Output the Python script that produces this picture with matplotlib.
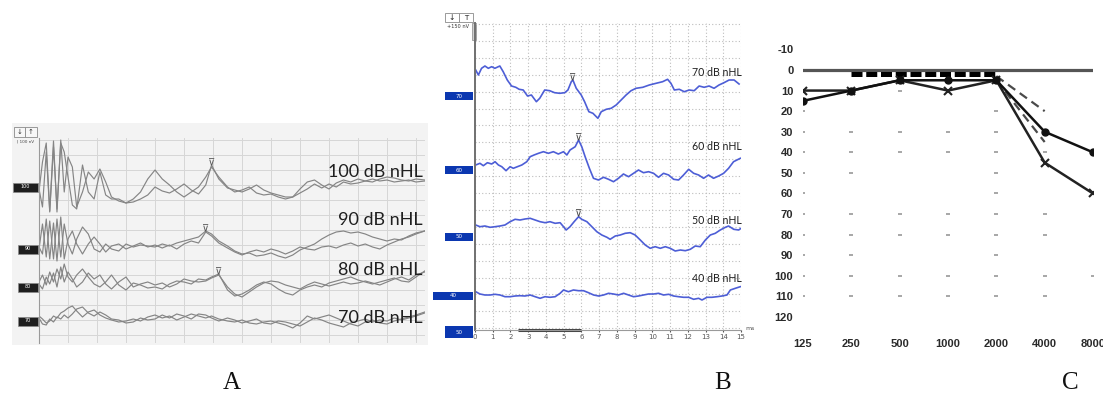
import numpy as np
import matplotlib
matplotlib.use('Agg')
import matplotlib.pyplot as plt
import matplotlib.transforms as mtransforms
from matplotlib.patches import Rectangle

W, H = 1103, 395

# ---------------- panel A: click ABR, two runs per level ----------------
a_levels = ['100', '90', '80', '70']
a_time = [0, 0.12, 0.25, 0.37, 0.5, 0.62, 0.75, 0.87, 1.0, 1.15, 1.3,
          1.5, 1.7, 1.9, 2.1, 2.3, 2.5,
          2.75, 3.0, 3.25, 3.5, 3.75, 4.0, 4.25, 4.5, 4.75, 5.0, 5.25, 5.5, 5.75,
          5.95, 6.2,
          6.5, 6.75, 7.0, 7.25, 7.5, 7.75, 8.0, 8.25, 8.5, 8.75, 9.0, 9.25, 9.5, 9.75,
          10.0, 10.25, 10.5, 10.75, 11.0, 11.25, 11.5, 11.75, 12.0, 12.25, 12.5, 12.75, 13.0,
          13.3]
a100_run1 = [-4, 25, 44, -24, 46, -25, 47, -5, 30, 20, -20,
             -5, 15, 8, 18, 5, -10,
             -14, -16, -15, -12, -8, 0, -4, -6, -2, 3, -3, -7, 2,
             22, 8,
             -1, -3, -5, -2, 2, -3, -6, -8, -10, -10, -6, -2, 3, -1,
             3, 0, 5, 3, 4, 6, 8, 6, 7, 5, 6, 7, 5,
             6]
a100_run2 = [-2, -20, 35, -25, 40, -22, 44, 35, 10, -18, -22,
             22, -5, -12, 15, -8, -12,
             -12, -16, -12, -5, 8, 17, 8, 2, -5, -10, -5, 0, 10,
             20, 10,
             0, -5, -3, 0, -6, -8, -7, -10, -12, -10, -2, 5, 7, 2,
             -2, 4, 7, 5, 8, 6, 5, 8, 10, 9, 7, 6, 8,
             7]
a90_run1 = [0, 25, -8, 28, -10, 30, -8, 25, 5, -5, 10,
            22, 15, 0, -3, 5, 0,
            -2, 5, 2, 4, 3, 2, 5, 3, 6, 8, 10, 12, 18,
            15, 8,
            3, -2, -5, -4, -7, -6, -4, -7, -9, -6, -1, 2, 5, 10,
            14, 17, 18, 16, 17, 15, 12, 10, 8, 10, 9, 13, 16,
            18]
a90_run2 = [2, -5, 30, -10, 26, -12, 32, -10, 10, 18, 5,
            -5, 5, 12, 5, -3, 3,
            5, 0, 3, 6, 2, 4, 1, 4, 0, 5, 8, 6, 17,
            13, 6,
            1, -3, -6, -3, -1, -3, 0, -2, -5, -2, 2, 0, -1, 2,
            3, 1, 4, 6, 3, 5, 2, 0, 4, 7, 10, 12, 15,
            18]
a80_run1 = [5, 12, 2, 15, 5, 18, 8, 23, 10, 5, 12,
            18, 10, 3, 0, 5, 12,
            2, -3, 4, 2, -1, 0, -2, 3, 6, 5, 3, 8, 7,
            10, 13,
            -3, -9, -7, -3, 2, 5, 3, -2, -6, -8, -3, 0, 2, 0,
            4, 6, 8, 10, 7, 5, 3, 5, 7, 9, 6, 5, 10,
            16]
a80_run2 = [3, -2, 10, 3, 14, 0, 20, 5, 15, 8, 0,
            5, 14, 8, 12, 3, -2,
            5, 10, 0, 3, 5, 2, 4, 0, 3, 8, 6, 5, 6,
            9, 12,
            0, -7, -10, -5, 0, 4, 6, 5, 2, 0, -2, 2, 5, 3,
            1, 3, 5, 3, 4, 6, 4, 2, 5, 8, 10, 7, 12,
            15]
a70_run1 = [5, 2, -2, 0, 5, 3, 8, 10, 13, 15, 10,
            4, 9, 11, 6, 3, 1,
            -1, 0, 2, 0, 4, 6, 3, 5, 1, 4, 7, 5, 3,
            5, 2,
            0, -1, 1, -2, -3, -1, 0, -2, -4, -7, -2, 5, 2, 4,
            6, 3, 0, -3, -5, -1, 1, -2, -3, 0, 2, 4, 6,
            9]
a70_run2 = [3, -3, -4, 2, -1, 4, 2, 6, 3, 7, 12,
            14, 8, 5, 9, 6, 2,
            1, -2, -1, 3, 1, 2, 6, 3, 7, 5, 2, 7, 6,
            3, 0,
            3, 1, -2, 0, 2, -2, -3, 0, -1, -3, -5, -1, 3, 1,
            -2, -4, -6, -2, 0, 2, -1, 1, 0, 3, 1, 3, 5,
            8]
a_runs = [(a100_run1, a100_run2), (a90_run1, a90_run2),
          (a80_run1, a80_run2), (a70_run1, a70_run2)]
a_has_wave5 = [True, True, True, False]

# ---------------- panel B: ABR, one trace per level ----------------
b_levels = ['70', '60', '50', '40']
b70_t = [0.04, 0.19, 0.37, 0.56, 0.75, 0.94, 1.12, 1.40, 1.59, 1.82,
         2.06, 2.30, 2.49, 2.72, 2.96, 3.18, 3.46, 3.65, 3.93, 4.21,
         4.49, 4.78, 5.06, 5.24, 5.43, 5.52, 5.71, 5.99, 6.18, 6.42,
         6.65, 6.93, 7.12, 7.40, 7.68, 7.96, 8.24, 8.52, 8.80, 9.08,
         9.46, 9.83, 10.21, 10.58, 10.86, 11.05, 11.24, 11.52, 11.80, 12.08,
         12.36, 12.64, 12.92, 13.20, 13.48, 13.76, 14.04, 14.33, 14.61, 14.89]
b70_v = [26, 21, 27.7, 30, 27.7, 29.3, 27.7, 30, 24.3, 16,
         10, 8.7, 6.7, 6, 0, 1, -5.7, -2.3, 6, 5.3,
         3.3, 2.7, 3.3, 6, 14.3, 16, 7.7, 1, -5.7, -15.7,
         -17.3, -22.3, -15.7, -13.3, -12.3, -9, -4, 1, 5.3, 7.7,
         8.7, 11, 12.7, 14.3, 16.7, 12.7, 6, 6.7, 4.3, 6,
         5.3, 10, 8.7, 10, 7.7, 11, 13.3, 16, 16, 12]
b60_t = [0.04, 0.28, 0.47, 0.70, 0.94, 1.13, 1.32, 1.51, 1.75, 1.98,
         2.16, 2.39, 2.64, 2.92, 3.11, 3.33, 3.58, 3.86, 4.14, 4.42,
         4.70, 4.99, 5.18, 5.36, 5.65, 5.84, 6.02, 6.21, 6.45, 6.68,
         6.96, 7.25, 7.53, 7.81, 8.09, 8.37, 8.66, 8.94, 9.22, 9.50,
         9.79, 10.07, 10.35, 10.63, 10.92, 11.20, 11.48, 11.76, 12.05, 12.33,
         12.61, 12.89, 13.17, 13.45, 13.74, 14.02, 14.30, 14.58, 14.96]
b60_v = [5, 6.7, 4.3, 7.3, 6, 8.3, 5, 3.3, -0.7, 3.3,
         1.7, 3.3, 5, 8.3, 13.3, 15, 16.7, 18.3, 16.7, 18.3,
         16, 18.3, 15, 20, 23.3, 30, 23.3, 13.3, 1.7, -8.3,
         -10, -7.3, -9.3, -11.7, -8.3, -4, -6.7, -3.3, 0, -2.7,
         -1.7, -3.3, -7.3, -3.3, -5, -9.3, -10, -5, 0.7, -3.3,
         -5, -8.3, -5, -8.3, -6, -3.3, 1.7, 8.3, 11.7]
b50_t = [0.04, 0.28, 0.56, 0.85, 1.13, 1.41, 1.69, 1.98, 2.26, 2.54,
         2.82, 3.11, 3.39, 3.67, 3.95, 4.23, 4.52, 4.80, 4.99, 5.14,
         5.36, 5.59, 5.84, 6.02, 6.31, 6.59, 6.87, 7.15, 7.44, 7.62,
         7.91, 8.19, 8.47, 8.75, 9.03, 9.32, 9.60, 9.88, 10.16, 10.45,
         10.73, 11.01, 11.29, 11.58, 11.86, 12.14, 12.42, 12.70, 12.99, 13.27,
         13.55, 13.83, 14.12, 14.30, 14.59, 14.87, 15.0]
b50_v = [11.7, 10, 10.7, 9.4, 10, 10.7, 11.7, 15, 17.4, 16.7,
         17.7, 18.4, 16.7, 15, 14, 15, 13.4, 14, 10, 6.7,
         10, 15, 20, 17.4, 15, 10, 5, 1.7, -0.6, -2.6,
         0.7, 1.7, 3.4, 4, 1.7, -3.3, -8.3, -11.6, -10, -11.6,
         -10, -11.6, -14.3, -13.3, -14, -12.6, -9.3, -10, -3.3, 1.7,
         3.4, 6.7, 9.4, 10.7, 7.4, 6.7, 8.4]
b40_t = [0.04, 0.28, 0.56, 0.85, 1.13, 1.41, 1.69, 1.98, 2.26, 2.54,
         2.82, 3.11, 3.39, 3.67, 3.95, 4.23, 4.52, 4.80, 4.99, 5.27,
         5.55, 5.84, 6.12, 6.40, 6.69, 6.97, 7.25, 7.53, 7.81, 8.09,
         8.38, 8.66, 8.94, 9.22, 9.50, 9.79, 10.07, 10.35, 10.63, 10.92,
         11.20, 11.48, 11.76, 12.05, 12.33, 12.61, 12.80, 13.08, 13.36, 13.65,
         13.93, 14.21, 14.40, 14.68, 14.96]
b40_v = [4, 1.7, 0.7, 0.7, 1.4, 0.7, -1, -1, -0.3, 0,
         -0.3, 0.7, -1, -2.6, -1, -1.6, -1, 2.4, 5.7, 4,
         5.7, 5, 5, 3, 0.7, -0.3, 0.7, 2.4, 1.7, 0.7,
         2.4, 0.7, -1, -0.3, 0.7, 1.7, 1.7, 2.4, 0.7, 1.4,
         -0.3, -1, -1.6, -1.6, -3.6, -2.6, -4.3, -1.6, -1.6, -1,
         -0.3, 0.7, 5.7, 7.4, 9]
b_traces = [(b70_t, b70_v), (b60_t, b60_v), (b50_t, b50_v), (b40_t, b40_v)]
b_has_wave5 = [True, True, True, False]
b_stim_bar = [2.45, 5.95]

# ---------------- panel C: audiogram ----------------
freqs = [125, 250, 500, 1000, 2000, 4000, 8000]
freq_labels = ['125', '250', '500', '1000', '2000', '4000', '8000']
thr_circle = [15, 10, 5, 5, 5, 30, 40]
thr_cross = [10, 10, 5, 10, 5, 45, 60]
ref_f = [250, 2000]
ref_db = [2, 2]
bone1_f, bone1_db = [2000, 4000], [3, 20]
bone2_f, bone2_db = [2000, 4000], [5, 35]
db_ticks = list(range(-10, 121, 10))
grid_dots = {125: [20, 30, 40, 50, 60, 70, 80, 90, 100, 110],
             250: [30, 40, 50, 70, 80, 90, 100, 110],
             500: [10, 30, 40, 70, 80, 100, 110],
             1000: [30, 40, 70, 80, 100, 110],
             2000: [20, 30, 40, 50, 60, 70, 80, 90, 100, 110],
             4000: [40, 70, 80, 100, 110],
             8000: [100]}


def px_box(x0, y0, x1, y1):
    return [x0 / W, 1 - y1 / H, (x1 - x0) / W, (y1 - y0) / H]


fig = plt.figure(figsize=(W / 100, H / 100), dpi=100)
canvas = fig.add_axes([0, 0, 1, 1], zorder=0)
canvas.set_xlim(0, W)
canvas.set_ylim(H, 0)
canvas.axis('off')
top = fig.add_axes([0, 0, 1, 1], zorder=10)
top.set_xlim(0, W)
top.set_ylim(H, 0)
top.axis('off')
top.patch.set_alpha(0)

# ---- A ----
canvas.add_patch(Rectangle((12, 123), 416, 222, fc='#f3f3f3', ec='none'))
axA = fig.add_axes(px_box(39, 138, 425, 343), zorder=1)
axA.set_facecolor('#f3f3f3')
a_base = [0, -62, -100, -134]
axA.set_xlim(0, 13.31)
axA.set_ylim(-156, 49)
axA.set_xticks(np.arange(1, 14))
axA.set_yticks(np.arange(47, -156, -15))
axA.grid(True, color='#d6d6d6', lw=0.7)
axA.tick_params(length=0, labelbottom=False, labelleft=False)
for s in ['top', 'right', 'bottom']:
    axA.spines[s].set_visible(False)
axA.spines['left'].set_color('#9a9a9a')
trA = mtransforms.blended_transform_factory(axA.transAxes, axA.transData)
tA = np.array(a_time)
for lab, base, runs, has5 in zip(a_levels, a_base, a_runs, a_has_wave5):
    for r in runs:
        axA.plot(tA, np.array(r) + base, color='#858585', lw=0.85)
    w = 0.0674 if lab == '100' else 0.0544
    axA.add_patch(Rectangle((-w, base - 4.5), w - 0.003, 9, transform=trA,
                            fc='#1e1e1e', ec='#8a8a8a', lw=0.5, clip_on=False))
    axA.text(-w / 2 - 0.0015, base, lab, transform=trA, ha='center', va='center',
             fontsize=3.5, color='white', clip_on=False)
    if has5:
        mean = (np.array(runs[0]) + np.array(runs[1])) / 2
        win = (tA > 5) & (tA < 6.6)
        i = np.argmax(np.where(win, mean, -1e9))
        axA.annotate('⊽', (tA[i], base + max(runs[0][i], runs[1][i])),
                     xytext=(0, -1), textcoords='offset points', ha='center',
                     va='bottom', fontsize=7, color='#555555')

for lab, y in zip(['100 dB nHL', '90 dB nHL', '80 dB nHL', '70 dB nHL'], [172, 220, 270, 318]):
    top.text(423, y, lab, ha='right', va='center', fontsize=13,
             family='Lato', color='#1f1f1f')
canvas.add_patch(Rectangle((14, 127), 11, 10, fc='#f7f7f7', ec='#8a8a8a', lw=0.6))
canvas.add_patch(Rectangle((25, 127), 12, 10, fc='#f7f7f7', ec='#8a8a8a', lw=0.6))
canvas.text(19.5, 132, '↓', ha='center', va='center', fontsize=5, color='#333')
canvas.text(31, 132, '↑', ha='center', va='center', fontsize=5, color='#333')
canvas.text(17, 141.5, '| 100 nV', ha='left', va='center', fontsize=3, color='#444')

# ---- B ----
axB = fig.add_axes(px_box(475, 23, 741, 330), zorder=1)
axB.set_facecolor('none')
b_base = [0, -74, -140.7, -199.7]
axB.set_xlim(0, 15)
axB.set_ylim(-234, 73)
axB.set_xticks(range(0, 16))
axB.set_yticks(np.arange(72, -234, -16.9))
axB.grid(True, color='#bdbdbd', lw=0.8, ls=(0, (1, 2)))
axB.tick_params(axis='y', length=0, labelleft=False)
axB.tick_params(axis='x', length=1.5, pad=1.5, labelsize=5, colors='#555555')
for s in ['top', 'right']:
    axB.spines[s].set_visible(False)
axB.spines['left'].set_color('#707070')
axB.spines['left'].set_linewidth(1.4)
axB.spines['bottom'].set_color('#9a9a9a')
trB = mtransforms.blended_transform_factory(axB.transAxes, axB.transData)
for lab, base, (t, v), has5 in zip(b_levels, b_base, b_traces, b_has_wave5):
    t = np.array(t)
    v = np.array(v)
    axB.plot(t, v + base, color='#4d5ed6', lw=1.2)
    w = 0.158 if lab == '40' else 0.1128
    axB.add_patch(Rectangle((-w, base - 4), w - 0.0075, 8, transform=trB,
                            fc='#0b37b0', ec='none', clip_on=False))
    axB.text(-w / 2 - 0.004, base, lab, transform=trB, ha='center', va='center',
             fontsize=4, color='white', clip_on=False)
    if has5:
        win = (t > 5) & (t < 6.5)
        i = np.argmax(np.where(win, v, -1e9))
        axB.annotate('⊽', (t[i], base + v[i]), xytext=(0, -1),
                     textcoords='offset points', ha='center', va='bottom',
                     fontsize=7, color='#444444')
axB.add_patch(Rectangle((-0.1128, -242), 0.1053, 12, transform=trB,
                        fc='#0b37b0', ec='none', clip_on=False))
axB.text(-0.0602, -236, '50', transform=trB, ha='center', va='center',
         fontsize=4, color='white', clip_on=False)
axB.plot(b_stim_bar, [-234, -234], color='#444444', lw=2.2, clip_on=False,
         solid_capstyle='butt')
for lab, y in zip(['70 dB nHL', '60 dB nHL', '50 dB nHL', '40 dB nHL'], [73, 146, 220, 279]):
    top.text(742, y, lab, ha='right', va='center', fontsize=7.6,
             family='Lato', color='#1f1f1f')
top.text(745, 328, 'ms', ha='left', va='center', fontsize=4.5, color='#555')
canvas.add_patch(Rectangle((445, 13), 14, 9, fc='white', ec='#8a8a8a', lw=0.6))
canvas.add_patch(Rectangle((459, 13), 14, 9, fc='white', ec='#8a8a8a', lw=0.6))
canvas.text(452, 17.5, '↓', ha='center', va='center', fontsize=5.5, color='#222')
canvas.text(466, 17.5, 'T', ha='center', va='center', fontsize=5, color='#222')
canvas.add_patch(Rectangle((472, 23), 4, 17, fc='#d0d0d0', ec='#888888', lw=0.5))
canvas.text(447, 26, '+150 nV', ha='left', va='center', fontsize=3.6, color='#333')

# ---- C ----
axC = fig.add_axes(px_box(803, 49.4, 1093, 317), zorder=1)
axC.set_facecolor('none')
axC.set_xscale('log', base=2)
axC.set_xlim(125, 8000)
axC.set_ylim(120, -10)
for s in axC.spines.values():
    s.set_visible(False)
axC.set_xticks(freqs)
axC.set_xticklabels(freq_labels)
axC.minorticks_off()
axC.set_yticks(db_ticks)
axC.set_yticklabels([str(d) for d in db_ticks])
axC.tick_params(axis='x', length=0, pad=16, labelsize=8, colors='#2a2a2a')
axC.tick_params(axis='y', length=0, pad=7, labelsize=8, colors='#2a2a2a')
for lbl in axC.get_xticklabels() + axC.get_yticklabels():
    lbl.set_fontweight('bold')
    lbl.set_family('Liberation Sans')
for f, levels in grid_dots.items():
    axC.plot([f] * len(levels), levels, ls='none', marker='_', ms=3,
             mew=1.1, color='#8f8f8f')
axC.axhline(0, color='#555555', lw=2.3)
axC.plot(ref_f, ref_db, color='black', lw=3.6, dashes=(2.2, 0.75))
axC.plot(bone1_f, bone1_db, color='#4a4a4a', lw=1.6, dashes=(4, 2.5))
axC.plot(bone2_f, bone2_db, color='#4a4a4a', lw=1.6, dashes=(4, 2.5))
axC.plot(freqs, thr_cross, color='#222222', lw=1.8, marker='x', ms=5.5, mew=1.5)
axC.plot(freqs, thr_circle, color='#111111', lw=1.8, marker='o', ms=5)

# ---- panel letters ----
for lab, x in zip(['A', 'B', 'C'], [232, 723, 1070]):
    top.text(x, 383, lab, ha='center', va='center', fontsize=18,
             family='Liberation Serif', color='#111111')

fig.savefig('out.png', dpi=100)
